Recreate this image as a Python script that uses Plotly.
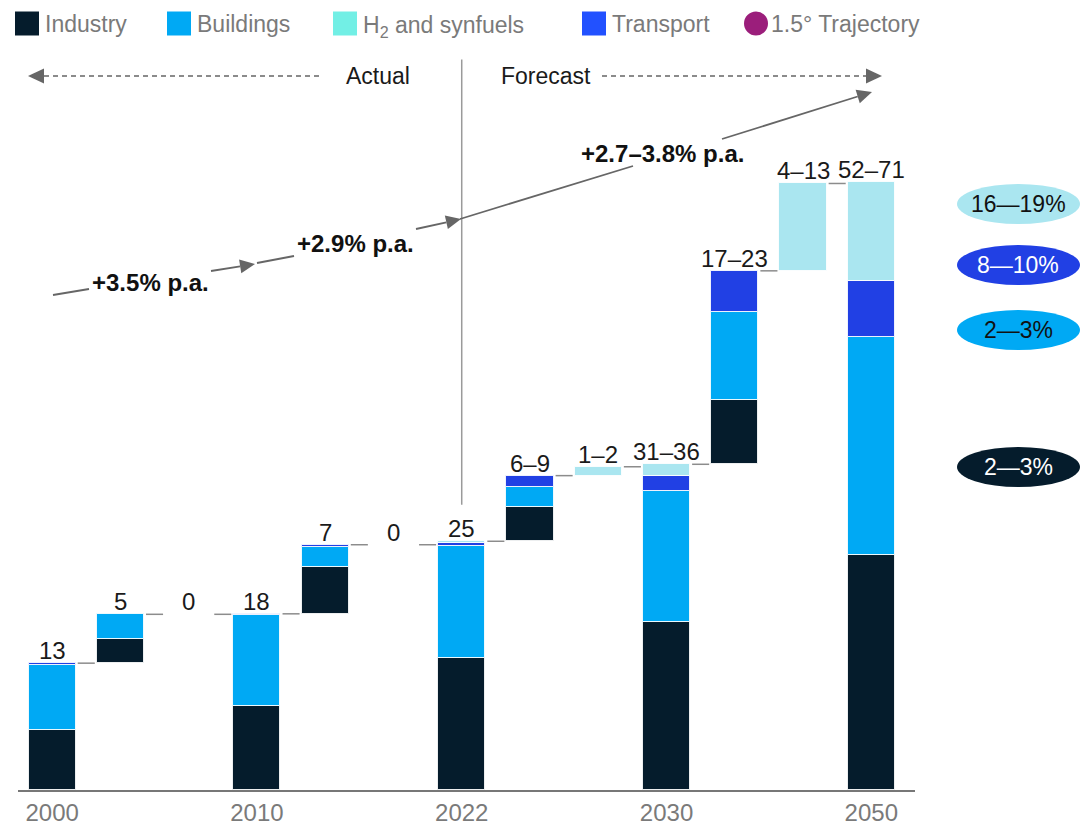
import math
import plotly.graph_objects as go

# ---------------- data ----------------
value_labels = ["13", "5", "0", "18", "7", "0", "25", "6\u20139", "1\u20132",
                "31\u201336", "17\u201323", "4\u201313", "52\u201371"]
is_total = [True, False, False, True, False, False, True, False, False,
            True, False, False, True]
tick_positions = [0, 3, 6, 9, 12]
tick_labels = ["2000", "2010", "2022", "2030", "2050"]

industry = [6.1, 2.45, 0, 8.5, 4.7, 0, 13.4, 3.5, 0, 17.0, 6.5, 0, 23.8]
buildings = [6.6, 2.5, 0, 9.2, 2.1, 0, 11.3, 1.95, 0, 13.3, 8.95, 0, 22.1]
transport = [0.15, 0, 0, 0.15, 0.2, 0, 0.35, 1.2, 0, 1.5, 4.15, 0, 5.7]
h2 = [0, 0, 0, 0, 0, 0, 0.15, 0, 0.9, 1.2, 0, 8.85, 10.0]

growth_labels = ["+3.5% p.a.", "+2.9% p.a.", "+2.7\u20133.8% p.a."]
cagr_labels = ["16\u201419%", "8\u201410%", "2\u20143%", "2\u20143%"]
legend_labels = ["Industry", "Buildings", "H<sub>2</sub> and synfuels", "Transport", "1.5\u00b0 Trajectory"]

# ---------------- styling ----------------
FONT = "Liberation Sans, Arial, sans-serif"
C_IND = "#051c2c"
C_BLD = "#00a9f4"
C_H2 = "#aae6f0"
C_TR = "#2140e4"
LEG_COLORS = ["#051c2c", "#00a9f4", "#72efe5", "#2251ff", "#9b1e7b"]
GRAY = "#666666"

W, H = 1084, 826
ML, MR, MT, MB = 18, 169, 0, 36
PX_W = W - ML - MR
PX_H = H - MT - MB
X_RANGE = [-0.5, 12.64]
Y_RANGE = [0, 80.04]
BAR_W = 0.69


def px(xp):
    return (xp - ML) / PX_W


def py(yp):
    return (MT + PX_H - yp) / PX_H


n = len(value_labels)
xs = list(range(n))

# waterfall bases
bases, tops = [], []
level = 0.0
for i in range(n):
    tot = industry[i] + buildings[i] + transport[i] + h2[i]
    b = 0.0 if is_total[i] else level
    bases.append(b)
    tops.append(b + tot)
    level = b + tot

fig = go.Figure()

series = [(industry, C_IND), (buildings, C_BLD), (transport, C_TR), (h2, C_H2)]
running = list(bases)
for vals, col in series:
    yv = [v if v > 0 else None for v in vals]
    fig.add_trace(go.Bar(
        x=xs, y=yv, base=list(running), width=BAR_W,
        marker=dict(color=col, line=dict(color="rgba(255,255,255,0.85)", width=1)),
        showlegend=False, hoverinfo="skip",
    ))
    running = [r + v for r, v in zip(running, vals)]

# connectors
cx, cy = [], []
inset = 0.03
for i in range(n - 1):
    lv = tops[i]
    cx += [i + BAR_W / 2 + inset, i + 1 - BAR_W / 2 - inset, None]
    cy += [lv, lv, None]
fig.add_trace(go.Scatter(x=cx, y=cy, mode="lines",
                         line=dict(color="#8c8c8c", width=1.5),
                         showlegend=False, hoverinfo="skip"))

annotations = []
shapes = []


def text_ann(x, y, text, size, color, xanchor="center", yanchor="middle", bold=False, yshift=0):
    return dict(x=x, y=y, xref="paper", yref="paper", text=f"<b>{text}</b>" if bold else text,
                showarrow=False, xanchor=xanchor, yanchor=yanchor, yshift=yshift,
                font=dict(family=FONT, size=size, color=color))


def arrow_head(tail, tip, length=15, half=7):
    dx, dy = tip[0] - tail[0], tip[1] - tail[1]
    d = math.hypot(dx, dy)
    ux, uy = dx / d, dy / d
    bx, by = tip[0] - ux * length, tip[1] - uy * length
    p1 = (bx - uy * half, by + ux * half)
    p2 = (bx + uy * half, by - ux * half)
    path = (f"M {px(tip[0])},{py(tip[1])} L {px(p1[0])},{py(p1[1])} "
            f"L {px(p2[0])},{py(p2[1])} Z")
    return dict(type="path", xref="paper", yref="paper", path=path,
                fillcolor=GRAY, line=dict(width=0)), (bx, by)


# value labels
for i in range(n):
    annotations.append(dict(x=i, y=tops[i], xref="x", yref="y", text=value_labels[i],
                            showarrow=False, xanchor="center", yanchor="bottom", yshift=-3,
                            font=dict(family=FONT, size=24, color="#1a1a1a")))

# divider line at 2022
shapes.append(dict(type="line", xref="x", yref="y", x0=6, x1=6, y0=28.9, y1=74.0,
                   line=dict(color="#9a9a9a", width=1.5)))

# Actual / Forecast
annotations.append(text_ann(px(378), py(76), "Actual", 23, "#1a1a1a"))
annotations.append(text_ann(px(546), py(76), "Forecast", 23, "#1a1a1a"))
shapes.append(dict(type="line", xref="paper", yref="paper", x0=px(44), x1=px(320),
                   y0=py(76), y1=py(76), line=dict(color=GRAY, width=1.5, dash="5px,4px")))
shapes.append(dict(type="line", xref="paper", yref="paper", x0=px(602), x1=px(866),
                   y0=py(76), y1=py(76), line=dict(color=GRAY, width=1.5, dash="5px,4px")))
shapes.append(dict(type="path", xref="paper", yref="paper",
                   path=f"M {px(28)},{py(76)} L {px(44)},{py(68.5)} L {px(44)},{py(83.5)} Z",
                   fillcolor=GRAY, line=dict(width=0)))
shapes.append(dict(type="path", xref="paper", yref="paper",
                   path=f"M {px(882)},{py(76)} L {px(866)},{py(68.5)} L {px(866)},{py(83.5)} Z",
                   fillcolor=GRAY, line=dict(width=0)))

# growth trajectory
plain_segments = [((53, 295), (89, 289)), ((257, 263), (294, 256)), ((460, 219), (633, 166))]
arrow_segments = [((211, 271), (255, 264)), ((416, 229), (461, 219)), ((722, 139), (872, 92))]
for (a, b) in plain_segments:
    shapes.append(dict(type="line", xref="paper", yref="paper", x0=px(a[0]), y0=py(a[1]),
                       x1=px(b[0]), y1=py(b[1]), line=dict(color=GRAY, width=1.8)))
for (tail, tip) in arrow_segments:
    head, base_pt = arrow_head(tail, tip)
    shapes.append(dict(type="line", xref="paper", yref="paper", x0=px(tail[0]), y0=py(tail[1]),
                       x1=px(base_pt[0]), y1=py(base_pt[1]), line=dict(color=GRAY, width=1.8)))
    shapes.append(head)
growth_pos = [(150, 282), (355, 244), (662, 153)]
for txt, (gx, gy) in zip(growth_labels, growth_pos):
    annotations.append(text_ann(px(gx), py(gy), txt, 24, "#111111", bold=True))

# CAGR ellipses
ell_fill = [C_H2, C_TR, C_BLD, C_IND]
ell_text = ["#111111", "#ffffff", "#111111", "#ffffff"]
ell_y = [204, 265, 330, 467]
for lab, fc, tc, ey in zip(cagr_labels, ell_fill, ell_text, ell_y):
    shapes.append(dict(type="circle", xref="paper", yref="paper",
                       x0=px(957), x1=px(1080), y0=py(ey - 20), y1=py(ey + 20),
                       fillcolor=fc, line=dict(width=0)))
    annotations.append(text_ann(px(1018), py(ey), lab, 23, tc))

# legend (manual)
leg_x = [15, 167, 333, 582, 744]
for k, (lab, col, lx) in enumerate(zip(legend_labels, LEG_COLORS, leg_x)):
    shp = "circle" if k == 4 else "rect"
    shapes.append(dict(type=shp, xref="paper", yref="paper", x0=px(lx), x1=px(lx + 24),
                       y0=py(35.5), y1=py(11.5), fillcolor=col, line=dict(width=0)))
    annotations.append(text_ann(px(lx + 28 if k < 4 else lx + 25), py(23.5), lab, 23,
                                "#7a7a7a", xanchor="left", yshift=-3 if k == 2 else 0))

fig.update_layout(
    width=W, height=H,
    margin=dict(l=ML, r=MR, t=MT, b=MB, autoexpand=False),
    paper_bgcolor="white", plot_bgcolor="white",
    barmode="overlay",
    bargap=0,
    showlegend=False,
    xaxis=dict(range=X_RANGE, tickvals=tick_positions, ticktext=tick_labels,
               showline=True, linecolor="#777777", linewidth=2, showgrid=False, zeroline=False,
               ticks="", automargin=False,
               tickfont=dict(family=FONT, size=24, color="#7a7a7a"), fixedrange=True),
    yaxis=dict(range=Y_RANGE, visible=False, fixedrange=True, automargin=False),
    annotations=annotations,
    shapes=shapes,
)

fig.write_html("out.html")
